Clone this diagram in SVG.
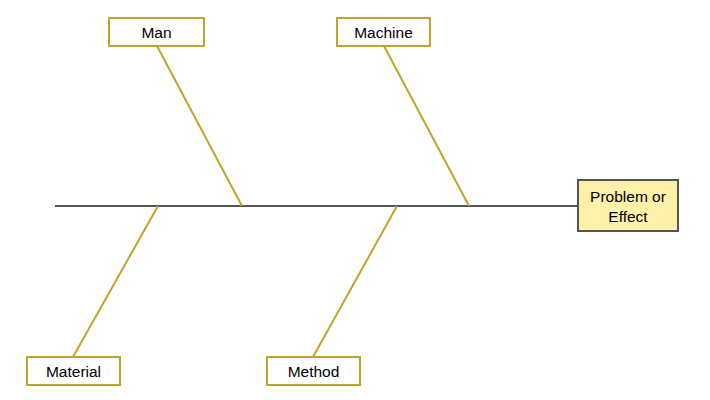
<svg xmlns="http://www.w3.org/2000/svg" width="710" height="400" viewBox="0 0 710 400">
<style>
.cat rect{fill:#fff;stroke:#BFA52E;stroke-width:2}
.bone{stroke:#BFA52E;stroke-width:2;fill:none}
text{font-family:"Liberation Sans",Arial,sans-serif;font-size:15.5px;fill:#000;text-anchor:middle}
</style>
<rect width="710" height="400" fill="#fff"/>
<g id="connectors">
<line x1="55" y1="206" x2="578" y2="206" stroke="#555" stroke-width="2"/>
<line class="bone" x1="157" y1="46" x2="242" y2="206"/>
<line class="bone" x1="384" y1="46" x2="469" y2="206"/>
<line class="bone" x1="158" y1="206" x2="73" y2="357"/>
<line class="bone" x1="397" y1="206" x2="313" y2="357"/>
</g>
<g id="man" class="cat"><rect x="109" y="18" width="95" height="28"/><text x="156.5" y="38">Man</text></g>
<g id="machine" class="cat"><rect x="337" y="18" width="93" height="28"/><text x="383.5" y="38">Machine</text></g>
<g id="material" class="cat"><rect x="27" y="357" width="93" height="28"/><text x="73.5" y="377">Material</text></g>
<g id="method" class="cat"><rect x="267" y="357" width="93" height="28"/><text x="313.5" y="377">Method</text></g>
<g id="problem"><rect x="578" y="180" width="100" height="51" fill="#FFF0AA" stroke="#555" stroke-width="2"/><text x="628" y="202">Problem or</text><text x="628" y="222">Effect</text></g>
</svg>
